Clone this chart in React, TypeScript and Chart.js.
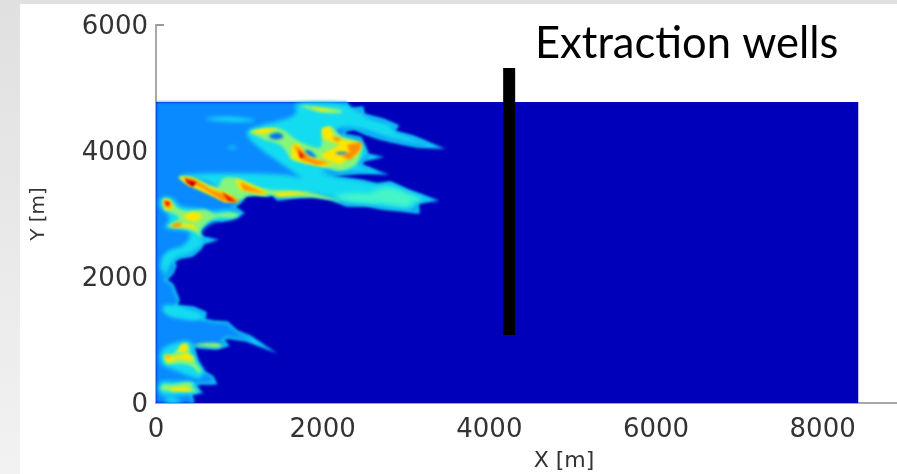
import React, { useEffect, useRef } from "react";
import { Chart, registerables } from "chart.js";

Chart.register(...registerables);

type P = [number, number];

const xTicks = [0, 2000, 4000, 6000, 8000];
const yTicks = [0, 2000, 4000, 6000];
const domainX = 8427;
const domainY = 4778;

const domain: P[] = [[0, 0], [domainX, 0], [domainX, domainY], [0, domainY]];

const plumeEdge: P[] = [
  [2268,4777],[2328,4650],[2472,4682],[2484,4571],[2724,4491],[2892,4396],[2832,4301],[3084,4221],[3372,4063],[3132,4079],
  [2892,4142],[2688,4206],[2508,4285],[2388,4364],[2268,4333],[2244,4253],[2448,4206],[2484,4094],[2532,3936],[2652,3904],
  [2484,3856],[2448,3777],[2688,3650],[2484,3666],[2328,3650],[2088,3618],[1968,3698],[2052,3571],[2292,3539],[2484,3507],
  [2652,3444],[2808,3491],[3048,3349],[3324,3222],[3132,3190],[3144,3031],[2964,3063],[2724,3095],[2532,3142],[2292,3142],
  [2088,3253],[1884,3301],[1644,3269],[1464,3237],[1392,3333],[1344,3301],[1212,3333],[1068,3301],[1008,3190],[924,3111],
  [1032,3015],[924,2952],[792,2904],[648,2936],[528,2793],[492,2698],[564,2619],[684,2587],[552,2539],[528,2460],
  [432,2349],[288,2317],[192,2238],[228,2190],[192,2063],[108,1952],[192,1873],[264,1635],[228,1524],[444,1508],
  [588,1428],[564,1317],[684,1285],[852,1270],[972,1127],[1128,1047],[1308,889],[1092,1000],[852,1047],[792,1000],
  [852,920],[732,873],[528,889],[432,920],[468,762],[492,635],[564,492],[672,413],[708,317],[528,317],
  [432,286],[528,175],[408,159],[444,0],
];
const plumeArea: P[] = [[0, domainY], ...plumeEdge, [0, 0]];

const cyanPatches: P[][] = [
  [[1628,4772],[2268,4772],[2368,4650],[2468,4634],[2488,4544],[2708,4465],[2868,4396],[2808,4317],[3068,4211],[3328,4079],
   [3088,4121],[2868,4184],[2688,4243],[2528,4333],[2328,4385],[2168,4359],[2108,4253],[2288,4174],[2448,4174],[2488,4094],
   [2548,3936],[2448,3856],[2408,3777],[2648,3661],[2408,3682],[2108,3671],[1968,3714],[2008,3618],[2248,3566],[2488,3523],
   [2648,3470],[2808,3502],[3028,3354],[3308,3222],[3108,3195],[3128,3063],[2888,3089],[2688,3116],[2488,3169],[2268,3169],
   [2088,3275],[1888,3327],[1648,3301],[1468,3275],[1408,3354],[1328,3327],[1128,3327],[968,3301],[728,3433],[528,3566],
   [208,3618],[528,3645],[848,3645],[1248,3645],[1648,3618],[1808,3513],[1528,3777],[1288,3989],[1108,4200],[1068,4333],
   [1328,4438],[1608,4518],[1708,4624]],
  [[548,4507],[728,4544],[968,4544],[1248,4491],[1048,4454],[728,4475]],
  [[840,4052],[920,4084],[988,4052],[908,4026]],
  [[108,2375],[228,2412],[408,2391],[248,2338],[176,2243],[148,2084],[80,1952],[108,2190]],
  [[88,1492],[228,1513],[388,1450],[568,1397],[448,1317],[248,1423],[128,1423]],
  [[88,0],[128,101],[208,101],[288,48],[328,0]],
  [[48,868],[268,974],[428,1000],[448,762],[528,630],[588,487],[528,365],[368,445],[168,551],[48,603]],
  [[48,1555],[228,1555],[448,1476],[588,1397],[568,1317],[368,1317],[128,1370]],
  [[28,365],[208,339],[448,365],[528,180],[408,127],[168,101],[28,127]],
  [[40,3274],[208,3274],[268,3116],[528,3089],[668,3036],[888,3089],[1040,2984],[908,2904],[748,2904],[568,2798],[528,2666],
   [588,2560],[528,2481],[408,2349],[248,2349],[148,2243],[88,2031],[40,2190],[108,2402],[368,2507],[428,2719],[288,2746],
   [68,2772],[168,2878],[148,3010],[40,3089]],
];

const aquaPatches: P[][] = [
  [[2568,3354],[2808,3449],[3008,3327],[3248,3222],[3048,3195],[3048,3089],[2728,3169],[2528,3222]],
  [[2088,3300],[2568,3354],[2728,3169],[2288,3190]],
];

const greenPatches: P[][] = [
  [[1688,4740],[1928,4703],[2228,4666],[2248,4597],[2008,4597],[1808,4666]],
  [[1088,4296],[1248,4359],[1508,4375],[1648,4200],[1808,4094],[2008,4015],[1968,4359],[2108,4412],[2208,4227],[2408,4174],
   [2488,4094],[2448,3909],[2408,3777],[2208,3661],[2048,3751],[1768,3804],[1608,3856],[1548,4042],[1428,4147],[1288,4174],[1208,4253]],
  [[228,3608],[448,3603],[628,3470],[768,3417],[788,3592],[988,3576],[1128,3470],[1348,3380],[1528,3380],[1808,3364],
   [2048,3275],[2288,3185],[1848,3275],[1468,3259],[1388,3312],[1308,3275],[1088,3312],[1008,3185],[788,3248],[608,3354],[368,3486]],
  [[68,3248],[188,3222],[248,3089],[368,3036],[608,3089],[688,2984],[888,3036],[1028,2984],[908,2931],[728,2957],
   [608,2878],[508,2719],[568,2587],[448,2745],[288,2772],[108,2798],[208,2878],[308,2931],[168,3036],[88,3063]],
  [[428,921],[608,963],[808,947],[768,868],[568,894]],
  [[268,868],[368,963],[416,868],[388,789],[468,736],[468,646],[548,524],[528,445],[428,603],[288,630],[108,603],[80,789],[188,762]],
  [[68,312],[208,286],[368,339],[468,312],[408,260],[528,180],[368,170],[168,191],[48,191]],
];

const yellowPatches: P[][] = [
  [[1848,4703],[2168,4634],[1968,4634]],
  [[1128,4306],[1308,4359],[1468,4359],[1328,4280],[1248,4270]],
  [[1628,4094],[1708,4121],[1808,3936],[1968,3856],[2148,3777],[2008,3751],[1808,3804],[1628,3883]],
  [[1988,4359],[2088,4385],[2148,4200],[2368,4147],[2468,4094],[2408,3936],[2288,3856],[2208,3777],[2048,3856],[1968,3936],[2208,4094],[2008,4200]],
  [[268,3592],[428,3566],[648,3417],[888,3312],[1000,3185],[828,3185],[608,3327],[368,3470]],
  [[948,3566],[1068,3513],[1328,3354],[1308,3301],[1128,3354],[1008,3380]],
  [[1408,3327],[1608,3354],[1848,3327],[1648,3301],[1468,3275]],
  [[88,3248],[168,3222],[208,3089],[108,3063]],
  [[328,2984],[448,3036],[568,2984],[488,2878],[368,2904]],
  [[168,2798],[308,2851],[448,2825],[508,2745],[328,2798]],
  [[108,762],[228,736],[368,789],[448,736],[428,667],[268,699],[128,630]],
  [[288,921],[368,947],[368,815],[268,815]],
  [[168,233],[368,260],[428,191],[168,191]],
];

const orangePatches: P[][] = [
  [[1648,4094],[1728,4042],[1848,3883],[2088,3804],[1928,3777],[1748,3856]],
  [[2108,4227],[2228,4200],[2168,4137]],
  [[2288,4094],[2468,4147],[2448,4015],[2328,3856],[2228,3909],[2328,3989]],
  [[308,3576],[448,3555],[668,3380],[928,3275],[988,3195],[808,3206],[528,3433]],
  [[1008,3513],[1128,3433],[1328,3327],[1168,3354],[1048,3380]],
  [[228,2851],[308,2867],[288,2798],[168,2788]],
  [[88,3222],[188,3169],[168,3089],[108,3116]],
  [[108,762],[168,751],[148,709]],
];

const bluePatches: P[][] = [
  [[1348,4253],[1468,4306],[1548,4227],[1468,4174],[1368,4200]],
  [[1768,4015],[1848,4015],[1948,3883],[1848,3909]],
  [[2148,3978],[2288,3989],[2308,3946],[2168,3946]],
];

const redPatches: P[][] = [
  [[348,3566],[488,3502],[448,3433],[368,3486]],
  [[788,3354],[908,3248],[968,3185],[868,3206]],
  [[108,3206],[168,3185],[148,3132],[120,3142]],
  [[1708,4015],[1788,3909],[1728,3883]],
];
const darkRedPatches: P[][] = [
  [[408,3513],[468,3486],[428,3449]],
];

const wellLine: P[] = [[4238, 5317], [4238, 1080]];
const wellLabel = "Extraction wells";
const wellLabelAt: P = [4548, 5475];
const xTitle = "X [m]";
const xTitleAt: P = [4896, -1016];
const yTitle = "Y [m]";

const pts = (a: P[]) => a.map(([x, y]) => ({ x, y }));

function App() {
  const ref = useRef<HTMLCanvasElement>(null);
  useEffect(() => {
    const region = (data: P[], color: string, blur = 2, smooth = true): any => ({
      data: pts(data),
      showLine: false,
      pointRadius: 0,
      regionFill: color,
      regionBlur: blur,
      regionSmooth: smooth,
    });
    const layer = (list: P[][], color: string, blur = 2, smooth = true) =>
      list.map((p) => region(p, color, blur, smooth));

    const stack: any[] = [
      region(domain, "#0000bb", 0.6, false),
      region(plumeArea, "#0a8aff", 1.6, false),
      {
        data: pts(plumeEdge),
        showLine: true,
        borderColor: "#10c8f5",
        borderWidth: 3,
        pointRadius: 0,
        regionBlur: 1.6,
      },
      ...layer(cyanPatches, "#14dcf0", 2.2),
      ...layer(aquaPatches, "#45f5c8", 2.4),
      ...layer(greenPatches, "#86f57a", 1.8),
      ...layer(yellowPatches, "#ffe600", 1.6, false),
      ...layer(orangePatches, "#ff8c00", 1.4, false),
      ...layer(bluePatches, "#0a70f0", 1.5),
      ...layer(redPatches, "#e81800", 1.2, false),
      ...layer(darkRedPatches, "#800000", 0.9, false),
      {
        data: pts(wellLine),
        showLine: true,
        borderColor: "#000000",
        borderWidth: 12,
        borderCapStyle: "butt",
        pointRadius: 0,
        regionBlur: 0.4,
      },
    ];
    const datasets = stack.map((d, i) => ({ ...d, order: stack.length - i }));

    const plugin = {
      id: "regions",
      beforeDraw(c: any) {
        c.ctx.filter = "blur(0.7px)";
      },
      beforeDatasetDraw(c: any, args: any) {
        const ds = c.data.datasets[args.index];
        const ctx = c.ctx;
        const a = c.chartArea;
        const el = args.meta.data;
        if (ds.regionFill) {
          ctx.save();
          ctx.beginPath();
          ctx.rect(a.left, a.top, a.right - a.left, a.bottom - a.top);
          ctx.clip();
          ctx.filter = `blur(${ds.regionBlur}px)`;
          ctx.fillStyle = ds.regionFill;
          ctx.beginPath();
          if (ds.regionSmooth) {
            const n = el.length;
            const mid = (p: any, q: any) => ({ x: (p.x + q.x) / 2, y: (p.y + q.y) / 2 });
            const start = mid(el[n - 1], el[0]);
            ctx.moveTo(start.x, start.y);
            el.forEach((p: any, i: number) => {
              const m = mid(p, el[(i + 1) % n]);
              ctx.quadraticCurveTo(p.x, p.y, m.x, m.y);
            });
          } else {
            el.forEach((p: any, i: number) => (i ? ctx.lineTo(p.x, p.y) : ctx.moveTo(p.x, p.y)));
          }
          ctx.closePath();
          ctx.fill();
          ctx.restore();
        }
        ctx.filter = `blur(${ds.regionBlur}px)`;
      },
      afterDatasetDraw(c: any) {
        c.ctx.filter = "none";
      },
      afterDraw(c: any) {
        const ctx = c.ctx;
        const sx = c.scales.x;
        const sy = c.scales.y;
        ctx.save();
        ctx.filter = "blur(0.4px)";
        ctx.fillStyle = "#000000";
        ctx.font = '43.5px Lato, "Open Sans", sans-serif';
        ctx.textAlign = "left";
        ctx.textBaseline = "alphabetic";
        ctx.fillText(wellLabel, sx.getPixelForValue(wellLabelAt[0]), sy.getPixelForValue(wellLabelAt[1]));
        ctx.filter = "blur(0.7px)";
        ctx.fillStyle = "#333333";
        ctx.font = '22px "DejaVu Sans", sans-serif';
        ctx.textAlign = "center";
        ctx.fillText(xTitle, sx.getPixelForValue(xTitleAt[0]), sy.getPixelForValue(xTitleAt[1]));
        ctx.restore();
      },
    };

    const tickFont = { family: '"DejaVu Sans", sans-serif', size: 26 };
    const chart = new Chart(ref.current!, {
      type: "scatter",
      data: { datasets } as any,
      plugins: [plugin],
      options: {
        animation: false,
        responsive: false,
        parsing: false,
        normalized: false,
        layout: { autoPadding: false, padding: { top: 25, right: 0, left: 0, bottom: 0 } },
        plugins: { legend: { display: false }, tooltip: { enabled: false } },
        scales: {
          x: {
            type: "linear",
            min: 0,
            max: 8892,
            afterFit: (s: any) => {
              s.height = 71;
              s.paddingLeft = 0;
              s.paddingRight = 0;
            },
            afterBuildTicks: (s: any) => {
              s.ticks = xTicks.map((value) => ({ value }));
            },
            grid: { drawOnChartArea: false, tickLength: -8, color: "#9a9a9a", lineWidth: 2 },
            border: { color: "#a8a8a8", width: 2 },
            ticks: {
              font: tickFont,
              color: "#333333",
              padding: 20,
              maxRotation: 0,
              autoSkip: false,
              includeBounds: false,
              callback: (v: any) => String(v),
            },
          },
          y: {
            type: "linear",
            min: 0,
            max: 6000,
            afterFit: (s: any) => {
              s.width = 156;
              s.paddingTop = 0;
              s.paddingBottom = 0;
            },
            afterBuildTicks: (s: any) => {
              s.ticks = yTicks.map((value) => ({ value }));
            },
            grid: { drawOnChartArea: false, tickLength: -8, color: "#9a9a9a", lineWidth: 2 },
            border: { color: "#a8a8a8", width: 2 },
            ticks: {
              font: tickFont,
              color: "#333333",
              padding: 16,
              labelOffset: 2,
              autoSkip: false,
              includeBounds: false,
              callback: (v: any) => String(v),
            },
            title: {
              display: true,
              text: yTitle,
              color: "#333333",
              font: { family: '"DejaVu Sans", sans-serif', size: 20 },
              padding: { top: 27, bottom: 0 },
            },
          },
        },
      } as any,
    });
    return () => chart.destroy();
  }, []);

  return (
    <div
      style={{
        position: "fixed",
        left: 0,
        top: 0,
        width: 897,
        height: 474,
        overflow: "hidden",
        background: "linear-gradient(to bottom,#e0e0e0,#f2f2f2)",
      }}
    >
      <div style={{ position: "absolute", left: 20, top: 4, right: 0, bottom: 0, background: "#ffffff" }} />
      <canvas ref={ref} width={897} height={474} style={{ position: "absolute", left: 0, top: 0 }} />
    </div>
  );
}

export default App;
